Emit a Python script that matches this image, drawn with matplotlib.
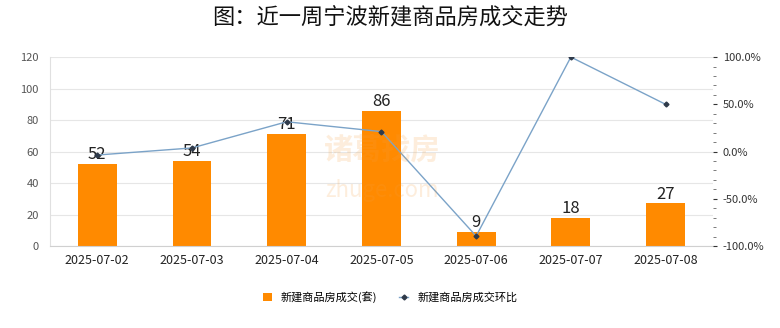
import numpy as np
import matplotlib.pyplot as plt
from matplotlib.ticker import MultipleLocator, FuncFormatter

plt.rcParams['font.family'] = ['Noto Sans CJK SC', 'DejaVu Sans']

dates = ['2025-07-02', '2025-07-03', '2025-07-04', '2025-07-05',
         '2025-07-06', '2025-07-07', '2025-07-08']
deals = [52, 54, 71, 86, 9, 18, 27]                      # 新建商品房成交(套)
ratio = [-3.7, 3.8, 31.5, 21.1, -89.5, 100.0, 50.0]      # 环比 (%)

fig = plt.figure(figsize=(7.8, 3.28), dpi=100)
ax = fig.add_axes([0.064, 0.25, 0.85, 0.576])
ax2 = ax.twinx()

x = np.arange(len(dates))
bars = ax.bar(x, deals, width=0.41, color='#ff8a00', zorder=2, label='新建商品房成交(套)')
for xi, v in zip(x, deals):
    ax.text(xi, v + 0.5, str(v), ha='center', va='bottom', fontsize=12, color='#222222', zorder=5)

ax.set_xlim(-0.5, len(dates) - 0.5)
ax.set_ylim(0, 120)
ax.yaxis.set_major_locator(MultipleLocator(20))
ax.set_xticks(x)
ax.set_xticklabels(dates)
ax.grid(axis='y', color='#e6e6e6', lw=0.8, zorder=0)
ax.set_axisbelow(True)
ax.tick_params(axis='x', length=0, labelsize=9, colors='#222222', pad=6)
ax.tick_params(axis='y', length=0, labelsize=8, colors='#555555', pad=8)
for s in ['top', 'right']:
    ax.spines[s].set_visible(False)
ax.spines['left'].set_color('#e0e0e0')
ax.spines['bottom'].set_color('#d0d0d0')

ax2.plot(x, ratio, color='#7ba3c8', lw=1, marker='D', ms=2.5,
         mfc='#2f3a4a', mec='#2f3a4a', zorder=4, label='新建商品房成交环比')
ax2.set_ylim(-100, 100)
ax2.yaxis.set_major_locator(MultipleLocator(50))
ax2.yaxis.set_minor_locator(MultipleLocator(10))
ax2.yaxis.set_major_formatter(FuncFormatter(lambda v, p: '%.1f%%' % v))
ax2.tick_params(axis='y', which='major', length=3, labelsize=8, colors='#333333', pad=4)
ax2.tick_params(axis='y', which='minor', length=2, color='#666666')
for s in ['top', 'left', 'bottom', 'right']:
    ax2.spines[s].set_visible(False)

# watermark
fig.text(0.49, 0.545, '诸葛找房', fontsize=21, color='#f5a040', alpha=0.18,
         ha='center', va='center', fontweight='bold')
fig.text(0.49, 0.42, 'zhuge.com', fontsize=16, color='#f5a040', alpha=0.18,
         ha='center', va='center')

fig.text(0.5, 0.945, '图：近一周宁波新建商品房成交走势', fontsize=16,
         ha='center', va='center', color='#111111', fontweight='medium')

h1, l1 = ax.get_legend_handles_labels()
h2, l2 = ax2.get_legend_handles_labels()
fig.legend(h1 + h2, l1 + l2, loc='center', bbox_to_anchor=(0.5, 0.095), ncol=2,
           frameon=False, fontsize=8, handlelength=0.8, handleheight=0.8,
           columnspacing=2.0, handletextpad=0.8)

fig.savefig('out.png', dpi=100)
